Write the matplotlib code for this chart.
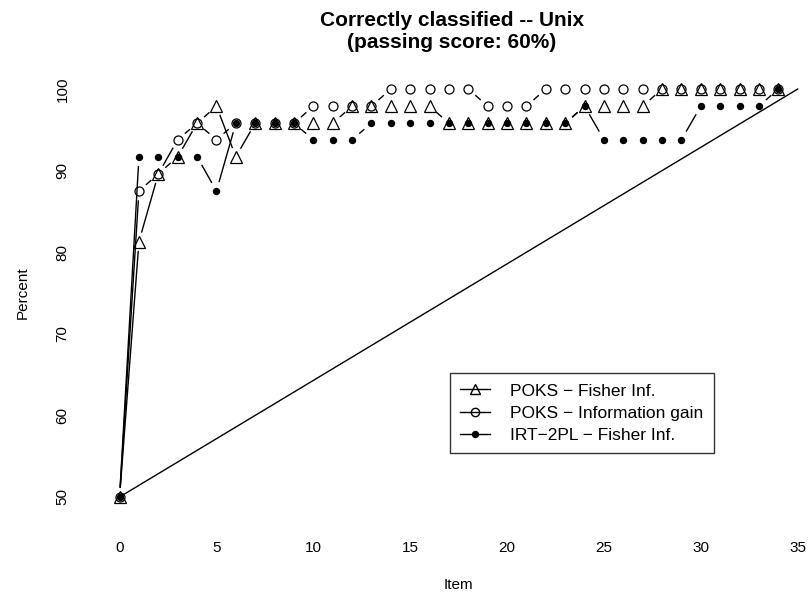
import numpy as np
import matplotlib
matplotlib.use("Agg")
import matplotlib.pyplot as plt
from matplotlib.lines import Line2D

plt.rcParams['font.family'] = ['Liberation Sans', 'DejaVu Sans']

# items administered (x) and % correctly classified
items = list(range(35))
poks_fisher = [50.0, 81.3, 89.6, 91.7, 95.8, 97.9, 91.7, 95.8, 95.8, 95.8,
               95.8, 95.8, 97.9, 97.9, 97.9, 97.9, 97.9, 95.8, 95.8, 95.8,
               95.8, 95.8, 95.8, 95.8, 97.9, 97.9, 97.9, 97.9, 100, 100,
               100, 100, 100, 100, 100]
poks_info = [50.0, 87.5, 89.6, 93.8, 95.8, 93.8, 95.8, 95.8, 95.8, 95.8,
             97.9, 97.9, 97.9, 97.9, 100, 100, 100, 100, 100, 97.9,
             97.9, 97.9, 100, 100, 100, 100, 100, 100, 100, 100,
             100, 100, 100, 100, 100]
irt_fisher = [50.0, 91.7, 91.7, 91.7, 91.7, 87.5, 95.8, 95.8, 95.8, 95.8,
              93.8, 93.8, 93.8, 95.8, 95.8, 95.8, 95.8, 95.8, 95.8, 95.8,
              95.8, 95.8, 95.8, 95.8, 97.9, 93.8, 93.8, 93.8, 93.8, 93.8,
              97.9, 97.9, 97.9, 97.9, 100]
random_x = [0, 35]
random_y = [50, 100]
labels = ['POKS \u2212 Fisher Inf.', 'POKS \u2212 Information gain', 'IRT\u22122PL \u2212 Fisher Inf.']

W, H = 811, 593
fig = plt.figure(figsize=(W / 100, H / 100), dpi=100)
# axes placed so data maps to the same pixels as the reference
ax = fig.add_axes([100.2 / W, (H - 513.3) / H, 707.2 / W, 440.6 / H])
ax.set_xlim(-1, 35.5)
ax.set_ylim(48, 102)


def gapped(x, y, r=10, **kw):
  '''R type="b": segments stop short of the points'''
  P = ax.transData.transform(np.column_stack([x, y]))
  xs, ys = [], []
  for a, b in zip(P[:-1], P[1:]):
    d = b - a
    L = np.hypot(*d)
    if L <= 2 * r:
      continue
    p0 = a + d * r / L
    p1 = b - d * r / L
    q = ax.transData.inverted().transform([p0, p1])
    xs += [q[0][0], q[1][0], np.nan]
    ys += [q[0][1], q[1][1], np.nan]
  ax.plot(xs, ys, color='black', lw=1.0, **kw)


ax.plot(random_x, random_y, color='black', lw=1.0)
gapped(items, poks_fisher)
gapped(items, poks_info)
gapped(items, irt_fisher)
ax.plot(items, poks_fisher, ls='none', marker='^', ms=9, mfc='none', mec='black', mew=0.9)
ax.plot(items, poks_info, ls='none', marker='o', ms=6.5, mfc='none', mec='black', mew=0.9)
ax.plot(items, irt_fisher, ls='none', marker='o', ms=4.3, mfc='black', mec='black')

for s in ax.spines.values():
  s.set_visible(False)
ax.set_xticks([0, 5, 10, 15, 20, 25, 30, 35])
ax.set_yticks([50, 60, 70, 80, 90, 100])
ax.tick_params(length=0, labelsize=11)
ax.tick_params(axis='x', pad=20)
ax.tick_params(axis='y', pad=22)
for t in ax.get_yticklabels():
  t.set_rotation(90)
  t.set_va('center')

fig.text(23 / W, 1 - 293 / H, 'Percent', rotation=90, ha='center', va='center', fontsize=11)
fig.text(458 / W, 1 - 585 / H, 'Item', ha='center', va='center', fontsize=11)
fig.text(452 / W, 1 - 20 / H, 'Correctly classified -- Unix',
         ha='center', va='center', fontsize=15, fontweight='bold')
fig.text(452 / W, 1 - 42 / H, '(passing score: 60%)',
         ha='center', va='center', fontsize=15, fontweight='bold')

handles = [
  Line2D([], [], color='black', lw=1, marker='^', ms=7, mfc='none', mec='black'),
  Line2D([], [], color='black', lw=1, marker='o', ms=6, mfc='none', mec='black'),
  Line2D([], [], color='black', lw=1, marker='o', ms=4.3, mfc='black', mec='black'),
]
leg = fig.legend(handles, labels, loc='upper left', bbox_to_anchor=(450 / W, 1 - 373 / H),
                 fontsize=12.5, frameon=True, fancybox=False, handlelength=1.7,
                 handletextpad=1.15, borderpad=0.6, labelspacing=0.4, borderaxespad=0)
leg.get_frame().set_edgecolor('black')
leg.get_frame().set_linewidth(1.0)

fig.savefig('out.png', dpi=100)
